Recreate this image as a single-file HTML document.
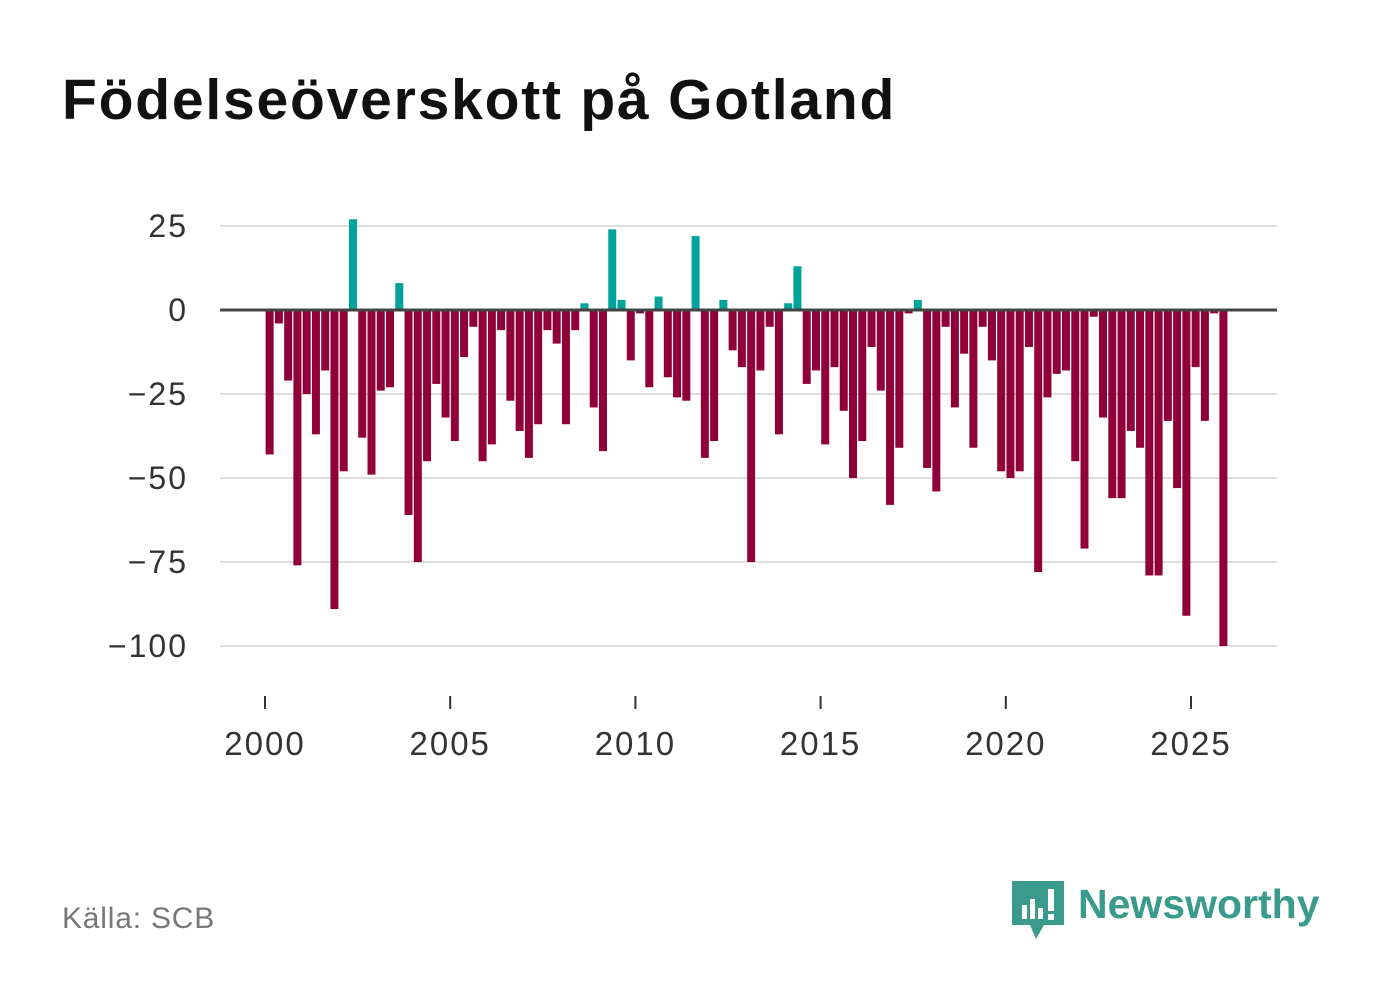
<!DOCTYPE html>
<html><head><meta charset="utf-8">
<style>
body{margin:0;background:#fff;font-family:"Liberation Sans",sans-serif;}
#wrap{position:relative;width:1382px;height:999px;overflow:hidden;}
h1{position:absolute;left:62px;top:67px;margin:0;font-size:57px;font-weight:bold;color:#111;letter-spacing:1.8px;}
.src{position:absolute;left:62px;top:902px;font-size:30px;color:#777;letter-spacing:0.8px;}
</style></head><body>
<div id="wrap">
<h1>Födelseöverskott på Gotland</h1>
<svg id="chart" width="1382" height="999" style="position:absolute;left:0;top:0"></svg>
<div class="src">Källa: SCB</div>
<svg width="320" height="70" style="position:absolute;left:1008px;top:875px">
<path d="M4 6h52v44H36l-8 14-6-14H4z" fill="#3a9a8c"/>
<rect x="14" y="30" width="5" height="14" fill="#fff"/><rect x="22" y="24" width="5" height="20" fill="#fff"/><rect x="30" y="33" width="5" height="11" fill="#fff"/><rect x="40" y="14" width="6" height="22" fill="#fff"/><rect x="40" y="39" width="6" height="6" fill="#fff"/>
<text x="70" y="43" font-family="Liberation Sans, sans-serif" font-size="41" font-weight="bold" fill="#3a9a8c">Newsworthy</text>
</svg>
</div>
<script>
const categories = [];
for (let y = 2000; y <= 2025; y++) for (let q = 1; q <= 4; q++) categories.push(y + q / 4 - 0.125);
const values = [-43,-4,-21,-76,-25,-37,-18,-89,-48,27,-38,-49,-24,-23,8,-61,-75,-45,-22,-32,-39,-14,-5,-45,-40,-6,-27,-36,-44,-34,-6,-10,-34,-6,2,-29,-42,24,3,-15,-1,-23,4,-20,-26,-27,22,-44,-39,3,-12,-17,-75,-18,-5,-37,2,13,-22,-18,-40,-17,-30,-50,-39,-11,-24,-58,-41,-1,3,-47,-54,-5,-29,-13,-41,-5,-15,-48,-50,-48,-11,-78,-26,-19,-18,-45,-71,-2,-32,-56,-56,-36,-41,-79,-79,-33,-53,-91,-17,-33,-1,-100];
const yTicks = [25,0,-25,-50,-75,-100];
const xTicks = [2000,2005,2010,2015,2020,2025];
const NS = "http://www.w3.org/2000/svg";
const svg = document.getElementById('chart');
const xs = v => 265 + (v - 2000) * 37.04;
const ys = v => 310 - v * 3.36;
function mk(tag, attrs){const e=document.createElementNS(NS,tag);for(const k in attrs)e.setAttribute(k,attrs[k]);svg.appendChild(e);return e;}
yTicks.forEach(t => {
  if (t !== 0) {
    const g = mk('line',{x1:220,x2:1277,y1:ys(t),y2:ys(t),stroke:'#dedede','stroke-width':2});
    
    
  }
  const l = mk('text',{x:188,y:ys(t)+11,'text-anchor':'end','font-size':32,'letter-spacing':2,fill:'#333','font-family':'Liberation Sans, sans-serif'});
  l.textContent = t < 0 ? '\u2212' + Math.abs(t) : String(t);
  
  
});
categories.forEach((c, i) => {
  const v = values[i];
  const r = mk('rect',{x:xs(c)-4,width:8,y:v>=0?ys(v):ys(0),height:Math.abs(ys(v)-ys(0)),fill:v>=0?'#00a39a':'#900039'});
  
  
});
const z = mk('line',{x1:220,x2:1277,y1:ys(0),y2:ys(0),stroke:'#444','stroke-width':3});


xTicks.forEach(t => {
  const tk = mk('line',{x1:xs(t),x2:xs(t),y1:696,y2:709,stroke:'#333','stroke-width':2});
  
  
  const l = mk('text',{x:xs(t),y:755,'text-anchor':'middle','font-size':33,'letter-spacing':2,fill:'#333','font-family':'Liberation Sans, sans-serif'});
  l.textContent = t;
  
  
});
</script>
</body></html>
